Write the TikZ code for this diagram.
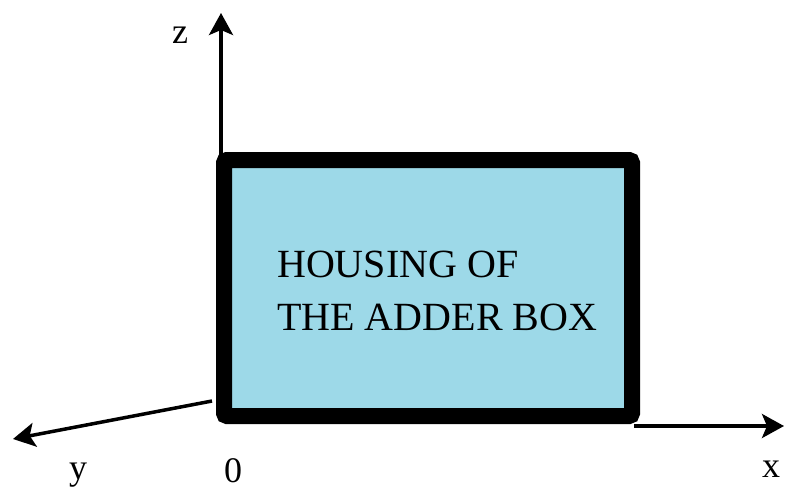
\documentclass[tikz,border=0pt]{standalone}
\usepackage{fontspec}
\setmainfont{Liberation Serif}
\usetikzlibrary{arrows.meta}
\begin{document}
\begin{tikzpicture}[x=1pt,y=-1pt,
  axis/.style={line width=3.5pt,-{Stealth[length=22pt,width=24pt,inset=5pt]}},
  housing/.style={draw=black,fill={rgb,255:red,157;green,217;blue,232},line width=16pt,rounded corners=3pt,minimum width=408pt,minimum height=256pt,inner sep=0pt},
  lbl/.style={font=\fontsize{36}{40}\selectfont,inner sep=0pt},
  txt/.style={font=\fontsize{40}{53}\selectfont,align=left,inner sep=0pt}]
\useasboundingbox (0,0) rectangle (790,496);
\coordinate (ztip) at (221,13);
\coordinate (xtip) at (784,426);
\coordinate (ystart) at (212,401);
\coordinate (ytip) at (13,439);
\draw[axis] (221,162) -- (ztip);
\node[housing] (box) at (428,288) {};
\node[txt,anchor=west] (t) at (277,291) {HOUSING OF\\THE ADDER BOX};
\coordinate (xstart) at (634,426);
\draw[axis] (xstart) -- (xtip);
\draw[axis] (ystart) -- (ytip);
\node[lbl] (lz) at (180,35) {z};
\node[lbl] (ly) at (78,475) {y};
\node[lbl] (l0) at (233,471) {0};
\node[lbl] (lx) at (771,469) {x};
\end{tikzpicture}
\end{document}
